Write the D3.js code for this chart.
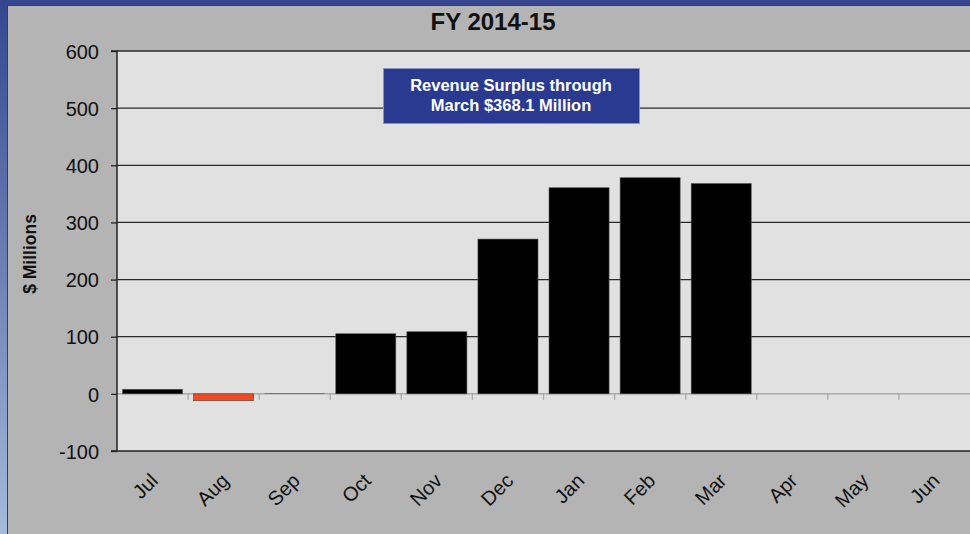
<!DOCTYPE html>
<html><head><meta charset="utf-8">
<script src="https://cdn.jsdelivr.net/npm/d3@7"></script>
<style>
html,body{margin:0;padding:0;background:#b4b4b4;}
svg{display:block;font-family:"Liberation Sans",Arial,Helvetica,sans-serif;}
</style></head>
<body>
<svg id="chart" width="970" height="534"></svg>
<script>
const months = ["Jul","Aug","Sep","Oct","Nov","Dec","Jan","Feb","Mar","Apr","May","Jun"];
const surplus = [8, -12, 0.5, 105.2, 108.7, 270.9, 360.7, 378.2, 368.1, null, null, null];
const yTicks = [-100, 0, 100, 200, 300, 400, 500, 600];
const title = "FY 2014-15";
const yLabel = "$ Millions";
const note = ["Revenue Surplus through", "March $368.1 Million"];

const svg = d3.select("#chart");
const W = 970, H = 534;
const m = {left: 117, right: 0, top: 51, bottom: 83};

const defs = svg.append("defs");
const lg = defs.append("linearGradient").attr("id","lb").attr("x1",0).attr("x2",0).attr("y1",0).attr("y2",1);
lg.append("stop").attr("offset","0%").attr("stop-color","#34468f");
lg.append("stop").attr("offset","100%").attr("stop-color","#a6badb");
svg.append("rect").attr("width",W).attr("height",H).attr("fill","#b4b4b4");
svg.append("rect").attr("x",0).attr("y",0).attr("width",7).attr("height",H).attr("fill","url(#lb)");
svg.append("rect").attr("x",0).attr("y",0).attr("width",W).attr("height",5).attr("fill","#36468e");
svg.append("line").attr("x1",7.5).attr("x2",7.5).attr("y1",5).attr("y2",H).attr("stroke","#2c3c80").attr("stroke-width",1);
svg.append("line").attr("x1",7).attr("x2",W).attr("y1",5.5).attr("y2",5.5).attr("stroke","#2c3c80").attr("stroke-width",1);

const x = d3.scaleBand().domain(months).range([m.left, W - m.right]).paddingInner(0.155).paddingOuter(0.0775);
const y = d3.scaleLinear().domain([-100, 600]).range([H - m.bottom, m.top]);

svg.append("rect").attr("x", m.left).attr("y", m.top).attr("width", W - m.right - m.left).attr("height", y(-100) - m.top).attr("fill","#e1e1e1");

svg.append("g").selectAll("line").data(yTicks.filter(d => d > 0)).join("line")
  .attr("x1", m.left).attr("x2", W).attr("y1", d => y(d)).attr("y2", d => y(d))
  .attr("stroke","#2a2a2a").attr("stroke-width",1.3);

const step = x.step();
const x0 = m.left;
svg.append("line").attr("x1", m.left).attr("x2", W).attr("y1", y(0)).attr("y2", y(0))
  .attr("stroke","#a9a9a9").attr("stroke-width",1.5);
svg.append("g").selectAll("line").data(d3.range(1, months.length)).join("line")
  .attr("x1", i => x0 + i*step).attr("x2", i => x0 + i*step)
  .attr("y1", y(0)).attr("y2", y(0) + 6)
  .attr("stroke","#a9a9a9").attr("stroke-width",1.3);

const data = months.map((mo,i) => ({mo, v: surplus[i]})).filter(d => d.v !== null);
svg.append("g").selectAll("rect").data(data).join("rect")
  .attr("x", d => x(d.mo)).attr("width", x.bandwidth())
  .attr("y", d => y(Math.max(0, d.v))).attr("height", d => Math.abs(y(d.v) - y(0)))
  .attr("fill", d => d.v < 0 ? "#f04a24" : "#000")
  .attr("stroke", d => d.v < 0 ? "#444" : "#555").attr("stroke-width", d => Math.abs(y(d.v)-y(0)) < 1 ? 0 : 0.6);

const yAxis = d3.axisLeft(y).tickValues(yTicks).tickSize(6).tickPadding(12).tickFormat(d => String(d));
const ga = svg.append("g").attr("transform", `translate(${m.left},0)`).call(yAxis);
ga.attr("font-size", null).attr("font-family", null);
ga.select(".domain").attr("stroke","#222").attr("stroke-width",1.5).attr("d", `M-6,${y(600)}H0V${y(-100)}H-6`);
ga.selectAll(".tick line").attr("stroke","#222").attr("stroke-width",1.3);
ga.selectAll(".tick text").attr("font-size", 20).attr("fill","#111").attr("x", -18).attr("dy","0.36em");

svg.append("line").attr("x1", m.left).attr("x2", W).attr("y1", y(-100)).attr("y2", y(-100))
  .attr("stroke","#222").attr("stroke-width",1.5);

svg.append("g").selectAll("text").data(months).join("text")
  .attr("transform", d => `translate(${x(d) + x.bandwidth()/2 + 6.5},${y(-100) + 31}) rotate(-45)`)
  .attr("text-anchor","end")
  .attr("font-size", 20).attr("fill","#111")
  .text(d => d);

svg.append("text").attr("x", 493).attr("y", 30).attr("text-anchor","middle")
  .attr("font-size", 24).attr("font-weight","bold").attr("fill","#111").text(title);

svg.append("text").attr("transform","translate(36,254) rotate(-90)").attr("text-anchor","middle")
  .attr("font-size", 17.5).attr("font-weight","bold").attr("fill","#111").text(yLabel);

svg.append("rect").attr("x",383.5).attr("y",68.5).attr("width",256).attr("height",55)
  .attr("fill","#2b3a91").attr("stroke","#8a93c4").attr("stroke-width",1);
svg.append("g").selectAll("text").data(note).join("text")
  .attr("x", 511).attr("y", (d,i) => 91 + i*20).attr("text-anchor","middle")
  .attr("font-size", 16.5).attr("font-weight","bold").attr("fill","#fff").text(d => d);
</script>
</body></html>
